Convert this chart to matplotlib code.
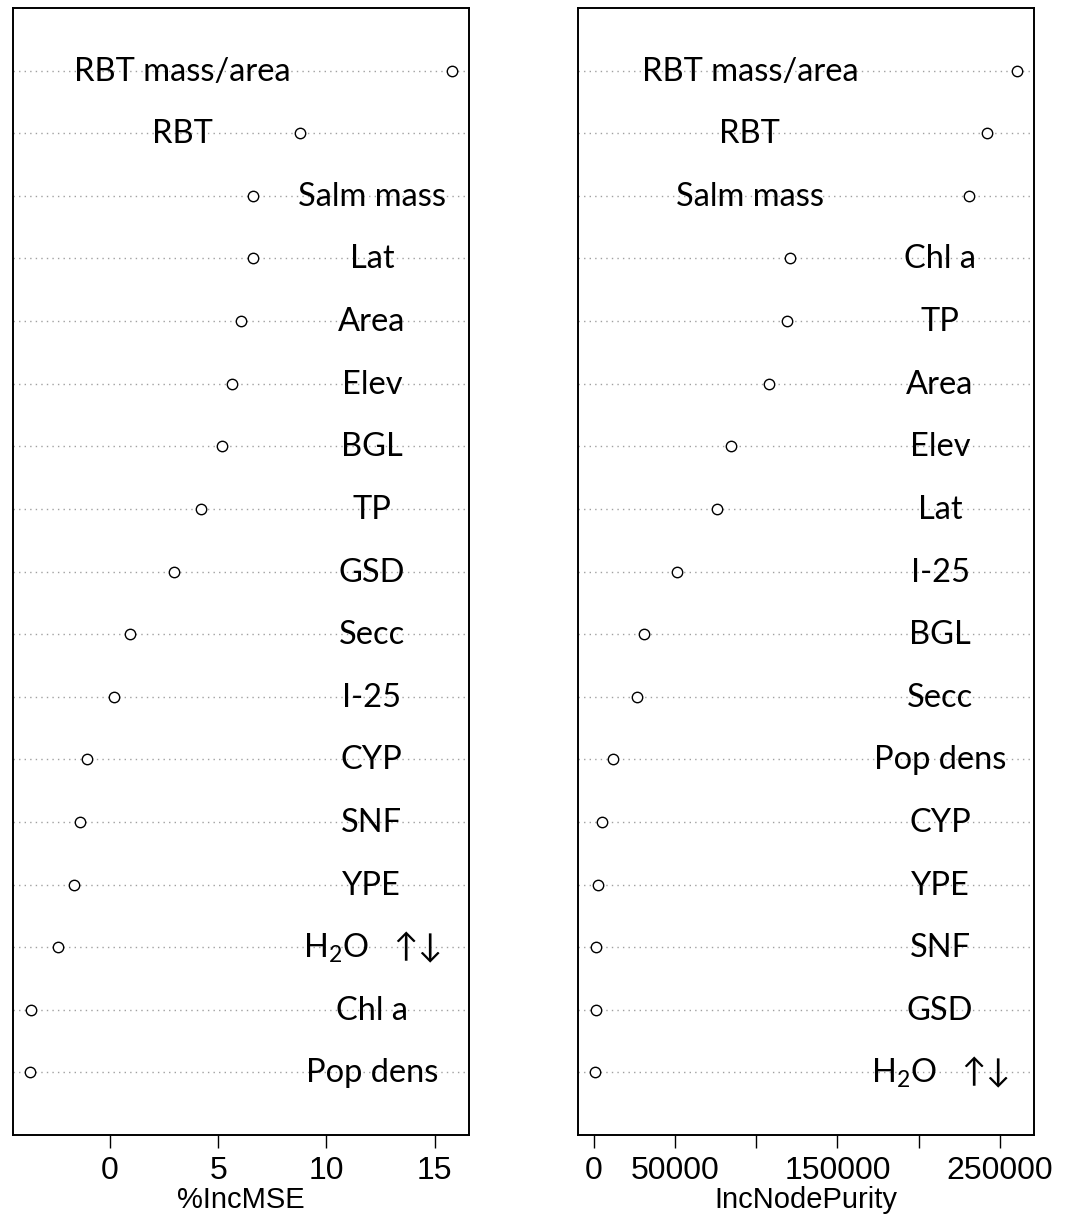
"""
Importância das variáveis (random forest) — dois dotcharts lado a lado,
%IncMSE e IncNodePurity, no estilo do varImpPlot do R.
"""

import matplotlib
matplotlib.use("Agg")
import matplotlib.pyplot as plt
import matplotlib.transforms as mtrans
import numpy as np
from matplotlib.transforms import offset_copy

# painel esquerdo: %IncMSE (ordem de cima para baixo)
mse_nomes = ["RBT mass/area", "RBT", "Salm mass", "Lat", "Area", "Elev", "BGL",
             "TP", "GSD", "Secc", "I-25", "CYP", "SNF", "YPE", "H2O", "Chl a",
             "Pop dens"]
mse_valores = [15.8, 8.8, 6.6, 6.6, 6.05, 5.65, 5.2, 4.2, 2.95, 0.92, 0.18,
               -1.06, -1.38, -1.66, -2.40, -3.64, -3.69]

# painel direito: IncNodePurity
pur_nomes = ["RBT mass/area", "RBT", "Salm mass", "Chl a", "TP", "Area", "Elev",
             "Lat", "I-25", "BGL", "Secc", "Pop dens", "CYP", "YPE", "SNF",
             "GSD", "H2O"]
pur_valores = [260600, 242000, 230900, 120700, 118800, 107700, 84200, 76100,
               51400, 31000, 26600, 11800, 5000, 2500, 1300, 1200, 700]

mse_ticks = [0, 5, 10, 15]
mse_ticklabels = ["0", "5", "10", "15"]
pur_ticks = [0, 50000, 100000, 150000, 200000, 250000]
pur_ticklabels = ["0", "50000", "", "150000", "", "250000"]

# posição horizontal (fração do eixo) do rótulo de cada linha
mse_lbl_x = [0.371, 0.371] + [0.787] * 15
pur_lbl_x = [0.377, 0.377, 0.377] + [0.794] * 14

plt.rcParams["mathtext.fontset"] = "custom"
plt.rcParams["mathtext.rm"] = "Lato"
plt.rcParams["mathtext.default"] = "regular"

FONTE_EIXO = ["Liberation Sans Narrow", "Liberation Sans", "DejaVu Sans"]
FONTE_ROTULO = ["Lato", "DejaVu Sans"]


def rotulo(nome):
    if nome == "H2O":
        return "H$_2$O   \u2191\u2193"
    return nome


def dotchart(ax, nomes, valores, ticks, ticklabels, lbl_x, xlabel):
    n = len(valores)
    y = np.arange(n, 0, -1)
    v = np.asarray(valores, dtype=float)
    ext = 0.04 * (v.max() - v.min())
    ax.set_xlim(v.min() - ext, v.max() + ext)
    ax.set_ylim(0, n + 1)

    for yi in y:
        ax.axhline(yi, color="#a0a0a0", linestyle=(0, (1, 3)), linewidth=1.0,
                   zorder=1)
    ax.plot(v, y, linestyle="none", marker="o", markersize=7.5,
            markerfacecolor="white", markeredgecolor="black",
            markeredgewidth=1.0, zorder=3)

    # rótulos sobrepostos: x em fração do eixo, y na linha, baseline 10 px abaixo
    blend = mtrans.blended_transform_factory(ax.transAxes, ax.transData)
    trans = offset_copy(blend, fig=ax.figure, x=0, y=-10, units="dots")
    for nome, yi, xf in zip(nomes, y, lbl_x):
        ax.text(xf, yi, rotulo(nome), transform=trans, ha="center",
                va="baseline", fontsize=23.5, family=FONTE_ROTULO,
                color="black", zorder=4)

    ax.set_yticks([])
    ax.set_xticks(ticks)
    ax.set_xticklabels(ticklabels, family=FONTE_EIXO, fontsize=23)
    ax.tick_params(axis="x", direction="out", length=9, width=1.0, pad=6)
    ax.set_xlabel(xlabel, family=FONTE_EIXO, fontsize=21)
    ax.xaxis.set_label_coords(0.5, -0.045)
    for s in ax.spines.values():
        s.set_linewidth(1.4)


fig = plt.figure(figsize=(10.69, 12.15), dpi=100)
ax1 = fig.add_axes([13 / 1069, 80 / 1215, 456 / 1069, 1127 / 1215])
ax2 = fig.add_axes([578 / 1069, 80 / 1215, 456 / 1069, 1127 / 1215])

dotchart(ax1, mse_nomes, mse_valores, mse_ticks, mse_ticklabels, mse_lbl_x,
         "%IncMSE")
dotchart(ax2, pur_nomes, pur_valores, pur_ticks, pur_ticklabels, pur_lbl_x,
         "IncNodePurity")

fig.savefig("out.png", dpi=100, facecolor="white")
